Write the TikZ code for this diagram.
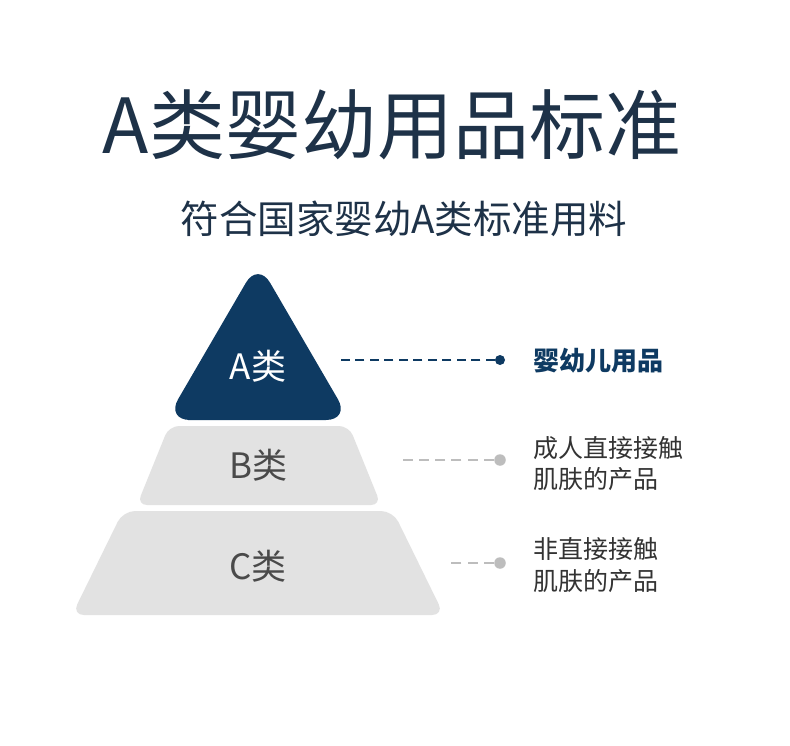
\documentclass[tikz,border=0pt]{standalone}
\usepackage{fontspec}
\setmainfont{Noto Sans CJK SC}
\definecolor{titlec}{HTML}{1E3248}
\definecolor{navy}{HTML}{0E3A62}
\definecolor{lightg}{HTML}{E2E2E2}
\definecolor{darkg}{HTML}{4A4A4A}
\definecolor{dashg}{HTML}{BDBDBD}
\definecolor{labelc}{HTML}{333333}
\begin{document}
\begin{tikzpicture}[x=1pt,y=-1pt,
  lvltext/.style={font=\fontsize{35}{35}\selectfont, inner sep=0pt, anchor=center},
  label/.style={font=\fontsize{25}{31.5}\selectfont, text=labelc, inner sep=0pt, anchor=west, align=left},
  dotA/.style={circle, fill=navy, inner sep=0pt, minimum size=10pt},
  dotG/.style={circle, fill=dashg, inner sep=0pt, minimum size=11.5pt},
  dashA/.style={draw=navy, line width=2.8pt, dash pattern=on 9pt off 5.5pt},
  dashG/.style={draw=dashg, line width=2.4pt, dash pattern=on 10pt off 6.3pt}]
\useasboundingbox[fill=white] (0,0) rectangle (790,746);
% title
\node[font=\fontsize{76}{76}\selectfont, text=titlec, inner sep=0pt] (title) at (392,125) {A类婴幼用品标准};
\node[font=\fontsize{38.5}{38.5}\selectfont, text=titlec, inner sep=0pt] (subtitle) at (404,219) {符合国家婴幼A类标准用料};
% pyramid
\fill[navy, rounded corners=24pt] (212,420) -- (166,420) -- (258,262) -- (350,420) -- cycle;
\fill[lightg, rounded corners=10pt] (258,505) -- (137,505) -- (169,426) -- (349,426) -- (381,505) -- cycle;
\fill[lightg, rounded corners=12pt] (258,615) -- (72,615) -- (123,511) -- (393,511) -- (444,615) -- cycle;
\node[lvltext, text=white] (ta) at (258,366) {A类};
\node[lvltext, text=darkg] (tb) at (258,465) {B类};
\node[lvltext, text=darkg] (tc) at (258,566) {C类};
% connectors
\coordinate (sa) at (340,360);
\coordinate (sb) at (402,460);
\coordinate (sc) at (450,563);
\node[dotA] (da) at (500,360) {};
\node[dotG] (db) at (500,460) {};
\node[dotG] (dc) at (500,563) {};
\draw[dashA] (da) -- (sa);
\draw[dashG] (db) -- (sb);
\draw[dashG] (dc) -- (sc);
% labels
\node[label, font=\fontsize{26}{26}\selectfont\bfseries, text=navy] (la) at (533,361) {婴幼儿用品};
\node[label] (lb) at (533,463.5) {成人直接接触\\肌肤的产品};
\node[label] (lc) at (533,565) {非直接接触\\肌肤的产品};
\end{tikzpicture}
\end{document}
